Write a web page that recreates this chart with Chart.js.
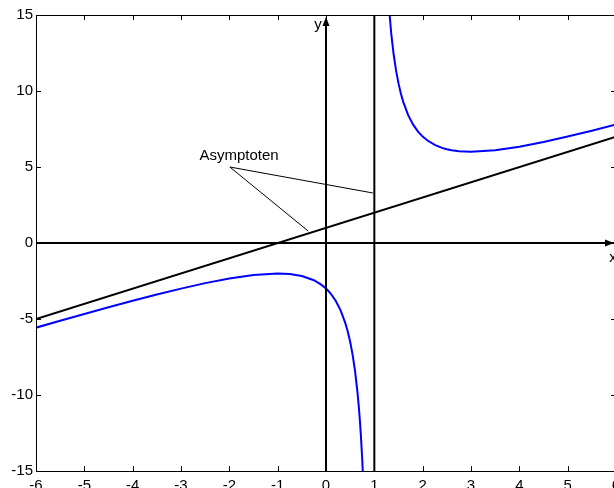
<!DOCTYPE html>
<html>
<head>
<meta charset="utf-8">
<script src="https://cdn.jsdelivr.net/npm/chart.js@4/dist/chart.umd.min.js"></script>
<style>
  html, body { margin: 0; padding: 0; background: #fff; overflow: hidden; }
  #wrap { width: 614px; height: 488px; overflow: hidden; position: relative; }
  canvas { position: absolute; left: 0; top: 0; }
</style>
</head>
<body>
<div id="wrap"><canvas id="chart" width="620" height="488"></canvas></div>
<script>
// axis ticks
const xTicks = [-6, -5, -4, -3, -2, -1, 0, 1, 2, 3, 4, 5, 6];
const yTicks = [-15, -10, -5, 0, 5, 10, 15];

// left branch of the curve
const leftX = [-6, -5.5, -5, -4.5, -4, -3.5, -3, -2.5, -2, -1.5, -1, -0.75, -0.5, -0.25, -0.1, 0, 0.05, 0.1, 0.2, 0.3, 0.4, 0.45, 0.5, 0.55, 0.6, 0.65, 0.68, 0.7, 0.72, 0.75, 0.78];
const leftY = [-5.57, -5.12, -4.67, -4.23, -3.8, -3.39, -3, -2.64, -2.33, -2.1, -2, -2.04, -2.17, -2.45, -2.74, -3, -3.16, -3.34, -3.8, -4.41, -5.27, -5.82, -6.5, -7.34, -8.4, -9.78, -10.82, -11.63, -12.57, -14.25, -16.4];

// right branch of the curve
const rightX = [1.25, 1.3, 1.35, 1.4, 1.45, 1.5, 1.55, 1.6, 1.7, 1.8, 1.9, 2, 2.1, 2.25, 2.4, 2.5, 2.6, 2.75, 3, 3.5, 4, 4.5, 5, 5.5, 6];
const rightY = [18.25, 15.63, 13.78, 12.4, 11.34, 10.5, 9.82, 9.27, 8.41, 7.8, 7.34, 7, 6.74, 6.45, 6.26, 6.17, 6.1, 6.04, 6, 6.1, 6.33, 6.64, 7, 7.39, 7.8];

// asymptotes
const slantX = [-6, 6];
const slantY = [-5, 7];
const vertX = [1, 1];
const vertY = [-15, 15];

// annotation "Asymptoten"
const annText = 'Asymptoten';
const annTextPos = [-1.8, 5.72];
const annX = [-0.37, -1.99, 0.97];
const annY = [0.79, 5.0, 3.29];

const pts = (xs, ys) => xs.map((x, i) => ({ x: x, y: ys[i] }));

const lineSet = (data, color, width) => ({
  data: data,
  showLine: true,
  borderColor: color,
  borderWidth: width,
  pointRadius: 0,
  fill: false,
  tension: 0
});

const FAMILY = '"Liberation Sans", Arial, sans-serif';
const FONT = '15px ' + FAMILY;

const decor = {
  id: 'decor',
  afterDatasetsDraw(chart) {
    const ctx = chart.ctx;
    const a = chart.chartArea;
    const xs = chart.scales.x, ys = chart.scales.y;
    ctx.save();
    ctx.strokeStyle = '#000';
    ctx.lineWidth = 1;
    // box
    ctx.strokeRect(a.left + 0.5, a.top + 0.5, a.right - a.left, a.bottom - a.top);
    // inward ticks
    ctx.beginPath();
    xTicks.forEach(v => {
      const px = Math.round(xs.getPixelForValue(v)) + 0.5;
      ctx.moveTo(px, a.bottom); ctx.lineTo(px, a.bottom - 5);
      ctx.moveTo(px, a.top); ctx.lineTo(px, a.top + 5);
    });
    yTicks.forEach(v => {
      const py = Math.round(ys.getPixelForValue(v)) + 0.5;
      ctx.moveTo(a.left, py); ctx.lineTo(a.left + 5, py);
      ctx.moveTo(a.right, py); ctx.lineTo(a.right - 5, py);
    });
    ctx.stroke();

    // arrowheads on the axes
    const x0 = xs.getPixelForValue(0), y0 = ys.getPixelForValue(0);
    const tipX = 614, tipY = 17;
    ctx.fillStyle = '#000';
    ctx.beginPath();
    ctx.moveTo(tipX, y0);
    ctx.lineTo(tipX - 9, y0 - 3.5);
    ctx.lineTo(tipX - 9, y0 + 3.5);
    ctx.closePath();
    ctx.fill();
    ctx.beginPath();
    ctx.moveTo(x0, tipY);
    ctx.lineTo(x0 - 3.5, tipY + 9);
    ctx.lineTo(x0 + 3.5, tipY + 9);
    ctx.closePath();
    ctx.fill();

    // axis letters and annotation text
    ctx.font = FONT;
    ctx.textBaseline = 'middle';
    ctx.textAlign = 'center';
    ctx.fillText('y', x0 - 8, 25);
    ctx.fillText('x', 613, y0 + 15);
    ctx.fillText(annText, xs.getPixelForValue(annTextPos[0]), ys.getPixelForValue(annTextPos[1]));
    ctx.restore();
  }
};

new Chart(document.getElementById('chart'), {
  type: 'scatter',
  data: {
    datasets: [
      lineSet(pts([-6, 6.2], [0, 0]), '#000', 2),
      lineSet(pts([0, 0], [-15, 14.5]), '#000', 2),
      lineSet(pts(slantX, slantY), '#000', 2),
      lineSet(pts(vertX, vertY), '#000', 2),
      lineSet(pts([annX[0], annX[1], annX[2]], [annY[0], annY[1], annY[2]]), '#000', 1),
      lineSet(pts(leftX, leftY), '#0000ff', 2),
      lineSet(pts(rightX, rightY), '#0000ff', 2)
    ]
  },
  options: {
    responsive: false,
    animation: false,
    events: [],
    layout: { padding: { left: 0, top: 15, right: 4, bottom: 0 } },
    plugins: { legend: { display: false }, tooltip: { enabled: false } },
    scales: {
      x: {
        type: 'linear', min: -6, max: 6,
        afterBuildTicks: s => { s.ticks = xTicks.map(v => ({ value: v })); },
        afterFit: s => { s.height = 17; s.paddingLeft = 0; s.paddingRight = 0; },
        grid: { display: false, drawTicks: false },
        border: { display: false },
        ticks: { color: '#000', font: { family: FAMILY, size: 15 }, padding: 6, maxRotation: 0, autoSkip: false }
      },
      y: {
        type: 'linear', min: -15, max: 15,
        afterBuildTicks: s => { s.ticks = yTicks.map(v => ({ value: v })); },
        afterFit: s => { s.width = 36; s.paddingTop = 0; s.paddingBottom = 0; },
        grid: { display: false, drawTicks: false },
        border: { display: false },
        ticks: { color: '#000', font: { family: FAMILY, size: 15 }, padding: 3 }
      }
    }
  },
  plugins: [decor]
});
</script>
</body>
</html>
